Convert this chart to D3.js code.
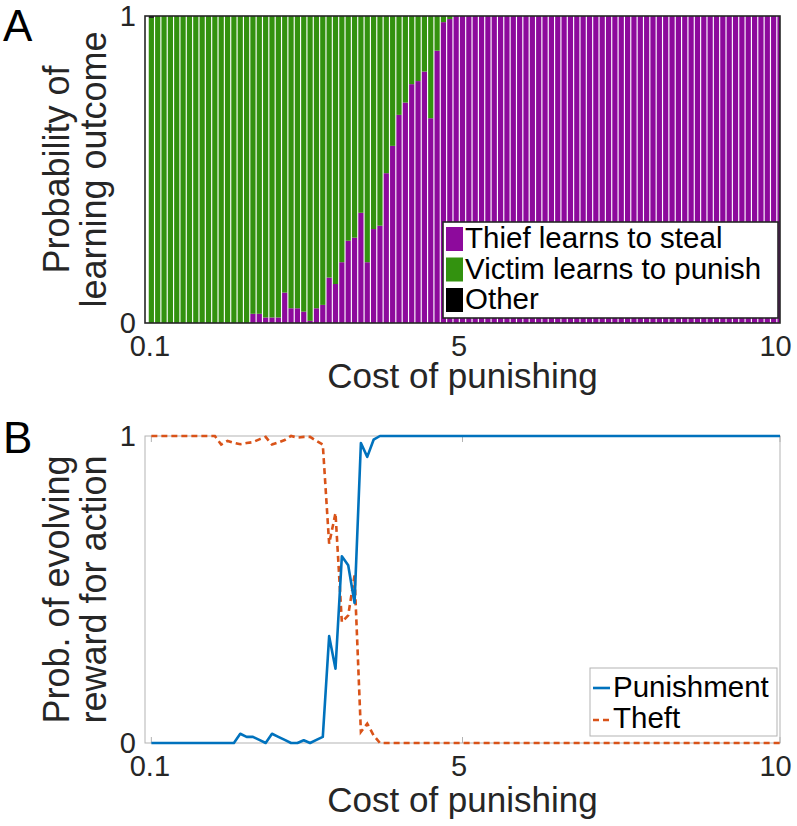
<!DOCTYPE html>
<html><head><meta charset="utf-8">
<script src="https://cdn.jsdelivr.net/npm/d3@7/dist/d3.min.js"></script>
<style>
body{margin:0;background:#fff}
svg{display:block}
text{font-family:"Liberation Sans",Arial,Helvetica,sans-serif}
</style>
</head><body>
<svg id="chart" width="797" height="826"></svg>
<script>
// ---- data ----
const costs = [0.1,0.2,0.3,0.4,0.5,0.6,0.7,0.8,0.9,1.0,
1.1,1.2,1.3,1.4,1.5,1.6,1.7,1.8,1.9,2.0,
2.1,2.2,2.3,2.4,2.5,2.6,2.7,2.8,2.9,3.0,
3.1,3.2,3.3,3.4,3.5,3.6,3.7,3.8,3.9,4.0,
4.1,4.2,4.3,4.4,4.5,4.6,4.7,4.8,4.9,5.0,
5.1,5.2,5.3,5.4,5.5,5.6,5.7,5.8,5.9,6.0,
6.1,6.2,6.3,6.4,6.5,6.6,6.7,6.8,6.9,7.0,
7.1,7.2,7.3,7.4,7.5,7.6,7.7,7.8,7.9,8.0,
8.1,8.2,8.3,8.4,8.5,8.6,8.7,8.8,8.9,9.0,
9.1,9.2,9.3,9.4,9.5,9.6,9.7,9.8,9.9,10.0];

// Panel A: probability of learning outcome (stacked)
const thiefSteals = [0,0,0,0,0,0,0,0,0,0,
0,0,0,0,0,0,0.03,0.03,0.018,0.018,
0.018,0.099,0.048,0.048,0.037,0.007,0.048,0.059,0.148,0.127,
0.198,0.268,0.278,0.359,0.198,0.306,0.317,0.488,0.577,0.678,
0.718,0.778,0.788,0.819,0.667,0.887,0.98,0.99,1,1,
1,1,1,1,1,1,1,1,1,1,
1,1,1,1,1,1,1,1,1,1,
1,1,1,1,1,1,1,1,1,1,
1,1,1,1,1,1,1,1,1,1,
1,1,1,1,1,1,1,1,1,1];
const victimPunishes = [0.994,1,1,1,1,1,1,1,1,1,
1,1,1,1,1,1,0.97,0.97,0.982,0.982,
0.982,0.901,0.952,0.952,0.963,0.993,0.952,0.941,0.852,0.873,
0.802,0.732,0.722,0.641,0.802,0.694,0.683,0.512,0.423,0.322,
0.282,0.222,0.212,0.181,0.333,0.113,0.02,0.01,0,0,
0,0,0,0,0,0,0,0,0,0,
0,0,0,0,0,0,0,0,0,0,
0,0,0,0,0,0,0,0,0,0,
0,0,0,0,0,0,0,0,0,0,
0,0,0,0,0,0,0,0,0,0];
const otherOutcome = [0.006,0,0,0,0,0,0,0,0,0,
0,0,0,0,0,0,0,0,0,0,
0,0,0,0,0,0,0,0,0,0,
0,0,0,0,0,0,0,0,0,0,
0,0,0,0,0,0,0,0,0,0,
0,0,0,0,0,0,0,0,0,0,
0,0,0,0,0,0,0,0,0,0,
0,0,0,0,0,0,0,0,0,0,
0,0,0,0,0,0,0,0,0,0,
0,0,0,0,0,0,0,0,0,0];

// Panel B: probability of evolving reward for action
const punishment = [0,0,0,0,0,0,0,0,0,0,
0,0,0,0,0.03,0.02,0.02,0.01,0,0.03,
0.02,0.01,0,0,0.009,0,0.01,0.02,0.348,0.242,
0.608,0.579,0.456,0.977,0.932,0.988,1,1,1,1,
1,1,1,1,1,1,1,1,1,1,
1,1,1,1,1,1,1,1,1,1,
1,1,1,1,1,1,1,1,1,1,
1,1,1,1,1,1,1,1,1,1,
1,1,1,1,1,1,1,1,1,1,
1,1,1,1,1,1,1,1,1,1];
const theft = [1,1,1,1,1,1,1,1,1,1,
1,0.972,0.984,0.978,0.973,0.977,0.98,0.989,0.997,0.972,
0.979,0.987,1,0.995,0.997,0.997,0.984,0.972,0.649,0.749,
0.394,0.416,0.546,0.036,0.063,0.025,0,0,0,0,
0,0,0,0,0,0,0,0,0,0,
0,0,0,0,0,0,0,0,0,0,
0,0,0,0,0,0,0,0,0,0,
0,0,0,0,0,0,0,0,0,0,
0,0,0,0,0,0,0,0,0,0,
0,0,0,0,0,0,0,0,0,0];

const xTickValues = [0.1, 5, 10];
const xTickLabels = ["0.1", "5", "10"];
const yTickValues = [0, 1];
const yTickLabels = ["0", "1"];

const outcomeKeys = ["thief", "victim", "other"];
const outcomeLabels = ["Thief learns to steal", "Victim learns to punish", "Other"];
const outcomeColors = ["#8d0a9c", "#33920f", "#000000"];
const lineLabels = ["Punishment", "Theft"];
const lineColors = ["#0072bd", "#d95319"];

// ---- drawing ----
const svg = d3.select("#chart");
const ink = "#262626";
const FONT = "Liberation Sans, Arial, Helvetica, sans-serif";
const W = {left:145, right:780};
const PA = {top:16, bottom:323};
const PB = {top:436, bottom:743};

const x = d3.scaleLinear().domain([0, 10]).range([W.left, W.right]);
const yA = d3.scaleLinear().domain([0, 1]).range([PA.bottom, PA.top]);
const yB = d3.scaleLinear().domain([0, 1]).range([PB.bottom, PB.top]);

// ===== Panel A =====
svg.append("defs").append("clipPath").attr("id","clipA")
  .append("rect").attr("x",W.left).attr("y",PA.top)
  .attr("width",W.right-W.left).attr("height",PA.bottom-PA.top);

const rows = costs.map((c,i)=>({cost:c, thief:thiefSteals[i], victim:victimPunishes[i], other:otherOutcome[i]}));
const series = d3.stack().keys(outcomeKeys)(rows);
const barHalf = 0.041;

const gA = svg.append("g").attr("clip-path","url(#clipA)");
gA.selectAll("g.series").data(series).join("g")
  .attr("class","series")
  .attr("fill",(d,i)=>outcomeColors[i])
  .selectAll("rect").data(d=>d).join("rect")
  .attr("x",d=>x(d.data.cost-barHalf))
  .attr("width",d=>x(d.data.cost+barHalf)-x(d.data.cost-barHalf))
  .attr("y",d=>yA(d[1]))
  .attr("height",d=>Math.max(0,yA(d[0])-yA(d[1])));

svg.append("rect").attr("x",W.left).attr("y",PA.top)
  .attr("width",W.right-W.left).attr("height",PA.bottom-PA.top)
  .attr("fill","none").attr("stroke",ink).attr("stroke-width",1.6);

function styleAxis(g, size){
  g.select(".domain").remove();
  g.selectAll("text").attr("font-family",FONT)
    .attr("font-size",size).attr("fill",ink);
}

function xAxis(yPos){
  const g = svg.append("g").attr("transform",`translate(0,${yPos})`)
    .call(d3.axisBottom(x).tickValues(xTickValues).tickFormat((d,i)=>xTickLabels[i])
      .tickSize(0).tickPadding(12));
  styleAxis(g, 29);
  g.selectAll("line").remove();
  g.selectAll("text").attr("dx",(d,i)=> i===2 ? -5 : (i===1 ? -4 : -2));
  return g;
}
function yAxis(scale){
  const g = svg.append("g").attr("transform",`translate(${W.left},0)`)
    .call(d3.axisLeft(scale).tickValues(yTickValues).tickFormat((d,i)=>yTickLabels[i])
      .tickSize(0).tickPadding(9));
  styleAxis(g, 29);
  g.selectAll("line").remove();
  return g;
}

xAxis(PA.bottom);
yAxis(yA);

svg.append("text").attr("x",(W.left+W.right)/2).attr("y",388)
  .attr("text-anchor","middle").attr("font-size",35).attr("fill",ink)
  .text("Cost of punishing");

function yLabel(lines, cy){
  const t = svg.append("g").attr("transform",`translate(0,${cy}) rotate(-90)`);
  t.append("text").attr("x",0).attr("y",69).attr("text-anchor","middle")
    .attr("font-size",36).attr("fill",ink).text(lines[0]);
  t.append("text").attr("x",0).attr("y",106).attr("text-anchor","middle")
    .attr("font-size",36).attr("fill",ink).text(lines[1]);
}
yLabel(["Probability of","learning outcome"], (PA.top+PA.bottom)/2);

svg.append("text").attr("x",3).attr("y",41).attr("font-size",44).attr("fill","#000").text("A");

// legend A
const legA = svg.append("g");
legA.append("rect").attr("x",443).attr("y",222).attr("width",335).attr("height",96)
  .attr("fill","#fff").attr("stroke",ink).attr("stroke-width",1.6);
outcomeLabels.forEach((lab,i)=>{
  legA.append("rect").attr("x",446).attr("y",227+i*30.5).attr("width",17).attr("height",24)
    .attr("fill",outcomeColors[i]);
  legA.append("text").attr("x",465).attr("y",248+i*30.5)
    .attr("font-size",29.5).attr("fill","#000").text(lab);
});

// ===== Panel B =====
svg.append("rect").attr("x",W.left).attr("y",PB.top)
  .attr("width",W.right-W.left).attr("height",PB.bottom-PB.top)
  .attr("fill","none").attr("stroke","#b3b3b3").attr("stroke-width",1);

const gT = svg.append("g").attr("stroke","#b3b3b3").attr("stroke-width",1);
xTickValues.forEach(v=>{
  gT.append("line").attr("x1",x(v)).attr("x2",x(v)).attr("y1",PB.bottom).attr("y2",PB.bottom-6);
  gT.append("line").attr("x1",x(v)).attr("x2",x(v)).attr("y1",PB.top).attr("y2",PB.top+6);
});

const lineGen = d3.line().x((d,i)=>x(costs[i])).y(d=>yB(d));
svg.append("path").datum(theft).attr("d",lineGen)
  .attr("fill","none").attr("stroke",lineColors[1]).attr("stroke-width",2.6)
  .attr("stroke-dasharray","6,4");
svg.append("path").datum(punishment).attr("d",lineGen)
  .attr("fill","none").attr("stroke",lineColors[0]).attr("stroke-width",2.6)
  .attr("stroke-linejoin","round");

xAxis(PB.bottom);
yAxis(yB);

svg.append("text").attr("x",(W.left+W.right)/2).attr("y",812)
  .attr("text-anchor","middle").attr("font-size",35).attr("fill",ink)
  .text("Cost of punishing");

yLabel(["Prob. of evolving","reward for action"], (PB.top+PB.bottom)/2);

svg.append("text").attr("x",3).attr("y",453).attr("font-size",44).attr("fill","#000").text("B");

// legend B
const legB = svg.append("g");
legB.append("rect").attr("x",590).attr("y",668).attr("width",187).attr("height",68)
  .attr("fill","#fff").attr("stroke","#b3b3b3").attr("stroke-width",1);
lineLabels.forEach((lab,i)=>{
  legB.append("line").attr("x1",593).attr("x2",610).attr("y1",688+i*32).attr("y2",688+i*32)
    .attr("stroke",lineColors[i]).attr("stroke-width",2.6)
    .attr("stroke-dasharray", i===1 ? "6,4" : null);
  legB.append("text").attr("x",613).attr("y",697+i*31)
    .attr("font-size",29.5).attr("fill","#000").text(lab);
});
</script>
</body></html>
